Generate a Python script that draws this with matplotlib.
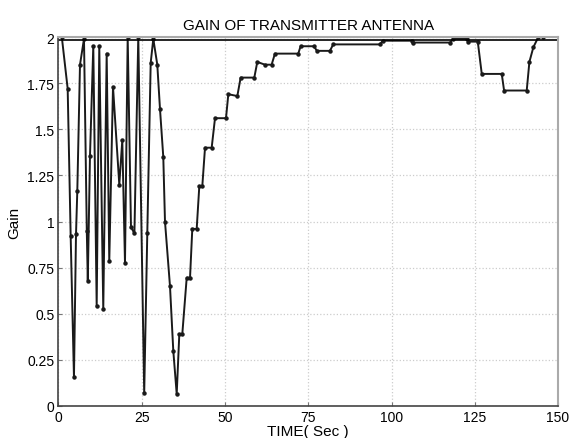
import numpy as np
import matplotlib
matplotlib.use('Agg')
import matplotlib.pyplot as plt

plt.rcParams['font.family'] = ['Liberation Sans', 'DejaVu Sans']

# time (sec) and gain
time = [1.0, 2.76, 3.66, 4.65, 5.26, 5.65, 6.46, 7.66, 8.5, 8.8, 9.46, 10.45,
        11.47, 12.25, 13.45, 14.47, 15.25, 16.37, 18.26, 19.16, 19.97, 20.78,
        21.77, 22.8, 23.96, 25.74, 26.67, 27.69, 28.47, 29.67, 30.48, 31.47,
        31.98, 33.48, 34.47, 35.5,
        36.28, 37.18, 38.5, 39.5, 40.18, 41.5, 42.28, 43.18, 44.0, 46.0,
        47.0, 50.3, 51.0, 53.7, 54.7, 58.8, 59.7, 62.0, 64.0, 65.0, 72.0,
        72.7, 76.7, 77.6, 81.5, 82.5, 96.5, 97.4, 106.1, 106.6, 117.6,
        118.4, 122.6, 123.1, 125.9, 127.1, 133.1, 133.8, 140.6, 141.4,
        142.6, 144.1, 145.6]
gain = [2.0, 1.72, 0.92, 0.155, 0.93, 1.165, 1.85, 1.99, 0.95, 0.68, 1.355, 1.95,
        0.54, 1.95, 0.525, 1.91, 0.785, 1.73, 1.2, 1.44, 0.775, 2.0,
        0.97, 0.935, 2.0, 0.07, 0.94, 1.86, 1.99, 1.85, 1.61, 1.35,
        1.0, 0.65, 0.3, 0.065,
        0.39, 0.39, 0.695, 0.695, 0.96, 0.96, 1.19, 1.19, 1.40, 1.40,
        1.56, 1.56, 1.69, 1.68, 1.78, 1.78, 1.865, 1.85, 1.85, 1.91, 1.91,
        1.95, 1.95, 1.925, 1.925, 1.96, 1.96, 1.98, 1.98, 1.97, 1.97,
        1.99, 1.99, 1.975, 1.975, 1.80, 1.80, 1.71, 1.71, 1.865,
        1.945, 2.0, 2.0]

xticks = [0, 25, 50, 75, 100, 125, 150]
yticks = [0, 0.25, 0.5, 0.75, 1, 1.25, 1.5, 1.75, 2]
ylabels = ['0', '0.25', '0.5', '0.75', '1', '1.25', '1.5', '1.75', '2']

fig = plt.figure(figsize=(5.7, 4.39), dpi=100)
ax = fig.add_axes([0.1026, 0.0729, 0.8764, 0.8405])

ax.plot(time, gain, '-', color='#1a1a1a', lw=1.4, marker='o', ms=2.2)
ax.axhline(1.982, color='black', lw=1.2)

ax.set_xlim(0, 150)
ax.set_ylim(0, 2)
ax.set_xticks(xticks)
ax.set_yticks(yticks)
ax.set_yticklabels(ylabels)
ax.grid(True, linestyle=':', color='#cccccc', lw=0.9)
ax.tick_params(labelsize=10, direction='in', length=3, color='#777777', pad=3)
for side in ['left', 'bottom']:
    ax.spines[side].set_color('#444444')
    ax.spines[side].set_linewidth(1.2)
for side in ['top', 'right']:
    ax.spines[side].set_color('#aaaaaa')
    ax.spines[side].set_linewidth(1.5)

ax.set_title('GAIN OF TRANSMITTER ANTENNA', fontsize=11, pad=6)
ax.set_xlabel('TIME( Sec )', fontsize=11, labelpad=0)
ax.set_ylabel('Gain', fontsize=11, labelpad=4)

plt.savefig('out.png', dpi=100)
